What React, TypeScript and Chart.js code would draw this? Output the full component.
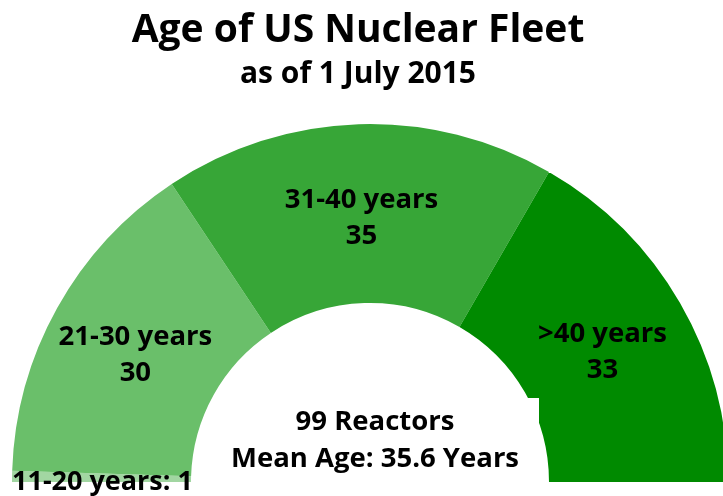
import React, { useEffect, useRef } from "react";
import { Chart, registerables } from "chart.js";

Chart.register(...registerables);

const categories = ["11-20 years", "21-30 years", "31-40 years", ">40 years"];
const reactorCounts = [1, 30, 35, 33];
const sliceColors = ["#a2d6a2", "#6abf6a", "#37a637", "#008a00"];
const titleText = "Age of US Nuclear Fleet";
const subtitleText = "as of 1 July 2015";
const centerLines = ["99 Reactors", "Mean Age: 35.6 Years"];
const FONT = "'Open Sans', 'DejaVu Sans', sans-serif";

const textPlugin = {
  id: "textPlugin",
  afterDatasetsDraw(chart: any) {
    const ctx = chart.ctx;
    const meta = chart.getDatasetMeta(0);
    ctx.save();
    // white text-box artefact of the centre label
    ctx.fillStyle = "#ffffff";
    ctx.fillRect(212, 398, 327, 98);

    ctx.fillStyle = "#000000";
    ctx.textAlign = "center";
    ctx.textBaseline = "alphabetic";
    ctx.font = `bold 39px ${FONT}`;
    ctx.fillText(titleText, 358, 42);
    ctx.font = `bold 30px ${FONT}`;
    ctx.fillText(subtitleText, 358, 83);

    const values = chart.data.datasets[0].data as number[];
    const labels = chart.data.labels as string[];
    meta.data.forEach((arc: any, i: number) => {
      if (i === 0) return;
      const p = arc.getCenterPoint();
      ctx.font = `bold 27.5px ${FONT}`;
      ctx.fillText(labels[i], p.x, p.y - 6);
      ctx.fillText(String(values[i]), p.x, p.y + 30);
    });

    ctx.font = `bold 27.5px ${FONT}`;
    ctx.fillText(centerLines[0], 375, 430);
    ctx.fillText(centerLines[1], 375, 467);

    ctx.textAlign = "left";
    ctx.font = `bold 27px ${FONT}`;
    ctx.fillText(`${labels[0]}: ${values[0]}`, 12, 490);
    ctx.restore();
  },
};

export default function App() {
  const ref = useRef<HTMLCanvasElement | null>(null);
  useEffect(() => {
    if (!ref.current) return;
    const chart = new Chart(ref.current, {
      type: "doughnut",
      data: {
        labels: categories,
        datasets: [
          {
            data: reactorCounts,
            backgroundColor: sliceColors,
            borderWidth: 0,
          },
        ],
      },
      options: {
        responsive: false,
        animation: false,
        rotation: -90,
        circumference: 180,
        cutout: "50%",
        layout: { padding: { left: 12, right: 2, top: 124, bottom: 14 } },
        plugins: {
          legend: { display: false },
          tooltip: { enabled: false },
          title: { display: false },
        },
      },
      plugins: [textPlugin],
    });
    return () => chart.destroy();
  }, []);
  return (
    <div
      style={{
        position: "absolute",
        left: 0,
        top: 0,
        width: 723,
        height: 496,
        overflow: "hidden",
        background: "#fff",
      }}
    >
      <canvas ref={ref} width={730} height={496} style={{ display: "block" }} />
    </div>
  );
}
